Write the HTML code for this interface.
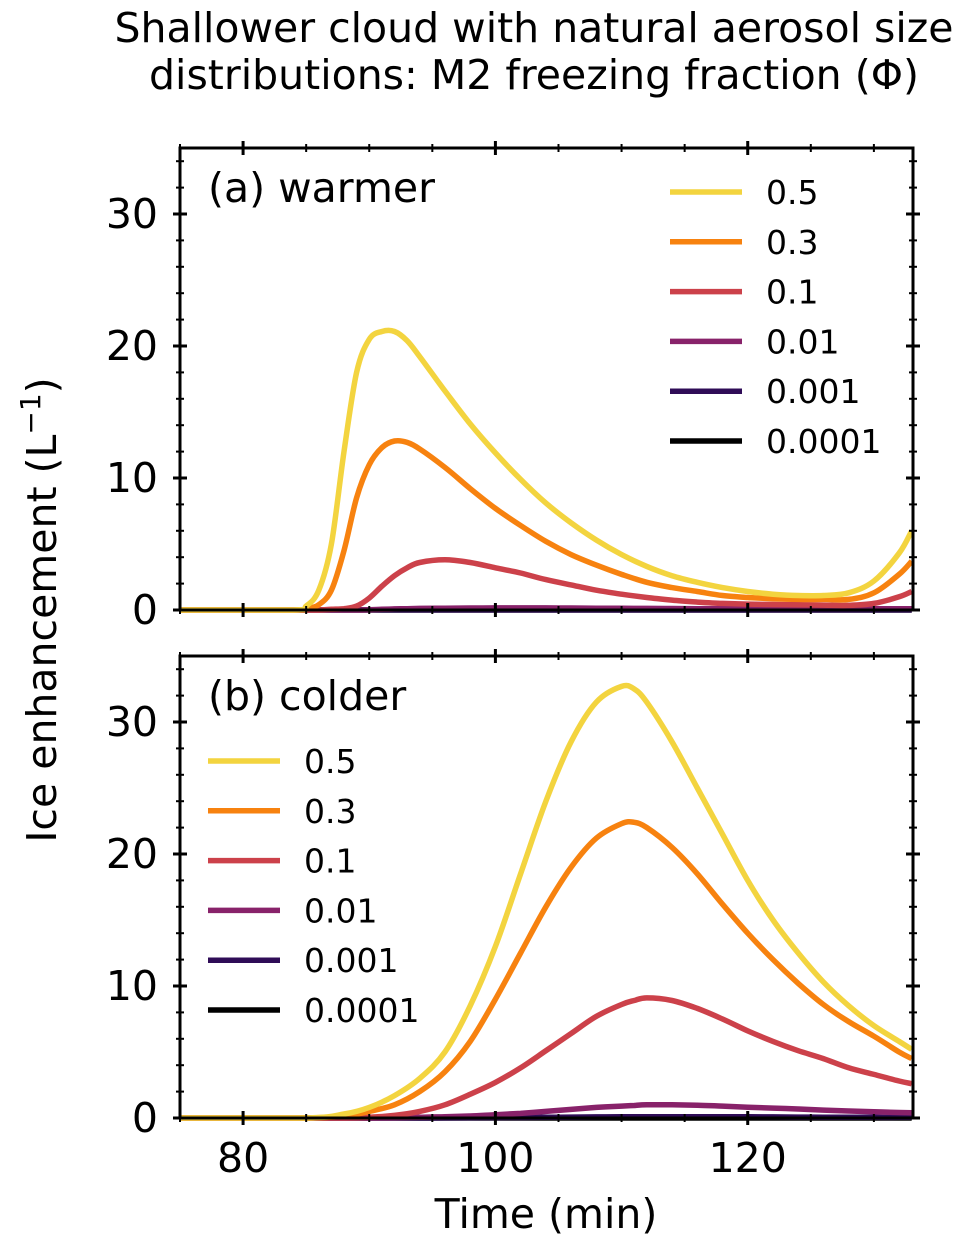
<!DOCTYPE html>
<html><head><meta charset="utf-8"><style>
body{margin:0;background:#fff}
svg text{font-family:"DejaVu Sans","Liberation Sans",sans-serif;fill:#000}
</style></head><body>
<svg id="chart" width="977" height="1247" xmlns="http://www.w3.org/2000/svg">
<text x="534" y="42" font-size="41" text-anchor="middle">Shallower cloud with natural aerosol size</text>
<text x="534" y="89" font-size="41" text-anchor="middle">distributions: M2 freezing fraction (Φ)</text>
<text transform="translate(56,610) rotate(-90)" font-size="41" text-anchor="middle">Ice enhancement (L<tspan font-size="28" dy="-16">−1</tspan><tspan dy="16">)</tspan></text>
<text x="546" y="1228" font-size="41" text-anchor="middle">Time (min)</text>
<g id="plots"></g>
</svg>
<script>
const phis=['0.5','0.3','0.1','0.01','0.001','0.0001'];
const colors=['#f3d43f','#f7820f','#cc414a','#88226a','#2f0c57','#000000'];
const xTicks=[80,100,120];
const yTicks=[0,10,20,30];
const timeA=[75,84,85,86,87,88,89,90,91,92,93,94,96,98,100,102,104,106,108,110,112,114,116,118,120,122,124,126,128,130,132,133];
const a05=[0,0,0.3,1.5,5,12,18,20.5,21.1,21.1,20.4,19.2,16.6,14.1,11.9,9.9,8.1,6.6,5.3,4.2,3.3,2.6,2.1,1.7,1.4,1.2,1.1,1.1,1.3,2.2,4.3,6];
const a03=[0,0,0.1,0.4,1.5,4.5,8.5,11,12.3,12.8,12.7,12.2,10.8,9.2,7.7,6.4,5.2,4.2,3.4,2.7,2.1,1.7,1.4,1.1,0.95,0.85,0.8,0.8,0.8,1.3,2.7,3.7];
const a01=[0,0,0,0,0.05,0.1,0.3,0.9,1.8,2.6,3.2,3.6,3.8,3.6,3.2,2.8,2.3,1.9,1.5,1.2,0.95,0.75,0.6,0.5,0.45,0.42,0.4,0.37,0.35,0.5,1.0,1.4];
const a001=[0,0,0,0,0,0,0,0.02,0.05,0.08,0.1,0.12,0.14,0.15,0.16,0.16,0.16,0.15,0.14,0.13,0.12,0.11,0.1,0.1,0.1,0.1,0.1,0.1,0.1,0.1,0.1,0.1];
const a0001=timeA.map(()=>0.01);
const a00001=timeA.map(()=>0);
const timeB=[75,85,88,90,92,94,96,98,100,102,104,106,108,110,111,112,114,116,118,120,122,124,126,128,130,132,133];
const b05=[0,0,0.3,0.8,1.7,3,5,8.5,13,18.5,24,28.5,31.5,32.7,32.5,31.5,28.5,25,21.5,18,15,12.5,10.3,8.5,7,5.8,5.2];
const b03=[0,0,0.15,0.5,1,2,3.5,5.8,9,12.5,16,19,21.2,22.3,22.4,22,20.5,18.5,16.2,14,12,10.2,8.6,7.3,6.2,5,4.5];
const b01=[0,0,0,0.05,0.2,0.5,1,1.8,2.7,3.8,5.1,6.4,7.7,8.6,8.9,9.1,8.9,8.3,7.5,6.6,5.8,5.1,4.5,3.8,3.3,2.8,2.6];
const b001=[0,0,0,0,0.02,0.05,0.1,0.15,0.25,0.35,0.5,0.65,0.8,0.9,0.95,1,1,0.97,0.9,0.82,0.75,0.68,0.6,0.53,0.47,0.42,0.4];
const b0001=[0,0,0,0,0,0,0.01,0.02,0.03,0.04,0.05,0.07,0.08,0.09,0.1,0.1,0.1,0.1,0.09,0.09,0.08,0.07,0.06,0.06,0.05,0.05,0.05];
const b00001=timeB.map(()=>0);
const seriesA=[a05,a03,a01,a001,a0001,a00001];
const seriesB=[b05,b03,b01,b001,b0001,b00001];

const NS='http://www.w3.org/2000/svg';
const g=document.getElementById('plots');
const L=180,R=913,X0=75,X1=133.1;
const xs=v=>L+(v-X0)/(X1-X0)*(R-L);
function el(t,attrs,parent){const e=document.createElementNS(NS,t);for(const k in attrs)e.setAttribute(k,attrs[k]);(parent||g).appendChild(e);return e;}
function smooth(pts,bottom){
  let d='M'+pts[0][0].toFixed(1)+','+pts[0][1].toFixed(1);
  for(let i=0;i<pts.length-1;i++){
    const p0=pts[i-1]||pts[i],p1=pts[i],p2=pts[i+1],p3=pts[i+2]||p2;
    let c1y=p1[1]+(p2[1]-p0[1])/6,c2y=p2[1]-(p3[1]-p1[1])/6;
    c1y=Math.min(c1y,bottom);c2y=Math.min(c2y,bottom);
    d+=' C'+(p1[0]+(p2[0]-p0[0])/6).toFixed(1)+','+c1y.toFixed(1)+' '+(p2[0]-(p3[0]-p1[0])/6).toFixed(1)+','+c2y.toFixed(1)+' '+p2[0].toFixed(1)+','+p2[1].toFixed(1);
  }
  return d;
}
function panel(top,bottom,times,series,label,legX,legY,key){
  const ys=v=>bottom-v/35*(bottom-top);
  const pg=el('g',{});
  
  
  for(let i=series.length-1;i>=0;i--){const s=series[i];
    const d=smooth(times.map((t,j)=>[xs(t),ys(s[j])]),bottom);
    const p=el('path',{d:d,fill:'none',stroke:colors[i],'stroke-width':5.5,'stroke-linejoin':'round'},pg);
    
    
  }
  const f=el('rect',{x:L,y:top,width:R-L,height:bottom-top,fill:'none',stroke:'#000','stroke-width':3},pg);
  
  
  for(let v=75;v<=133;v+=5){const x=xs(v),maj=v%20===0,h=maj?7:4,w=maj?3:2;
    el('line',{x1:x,x2:x,y1:bottom-h,y2:bottom+h,stroke:'#000','stroke-width':w},pg);
    el('line',{x1:x,x2:x,y1:top-h,y2:top+h,stroke:'#000','stroke-width':w},pg);}
  for(let v=0;v<=34;v+=2){const y=ys(v),maj=v%10===0,h=maj?7:4,w=maj?3:2;
    el('line',{x1:L-h,x2:L+h,y1:y,y2:y,stroke:'#000','stroke-width':w},pg);
    el('line',{x1:R-h,x2:R+h,y1:y,y2:y,stroke:'#000','stroke-width':w},pg);}
  yTicks.forEach(v=>{const t=el('text',{x:158,y:ys(v)+14,'font-size':41,'text-anchor':'end'},pg);t.textContent=v;
    
    });
  const lb=el('text',{x:208,y:top+54,'font-size':41},pg);lb.textContent=label;
  
  
  phis.forEach((p,i)=>{const y=legY+i*49.8;
    const lg=el('g',{},pg);
    
    
    el('line',{x1:legX,x2:legX+72,y1:y,y2:y,stroke:colors[i],'stroke-width':5.5},lg);
    const t=el('text',{x:legX+96,y:y+12,'font-size':33},lg);t.textContent=p;});
}
panel(148,610,timeA,seriesA,'(a) warmer',670,192,'a');
panel(656,1118,timeB,seriesB,'(b) colder',208,761,'b');
xTicks.forEach(v=>{const t=el('text',{x:xs(v),y:1172,'font-size':41,'text-anchor':'middle'});t.textContent=v;
  
  });
</script>
</body></html>
